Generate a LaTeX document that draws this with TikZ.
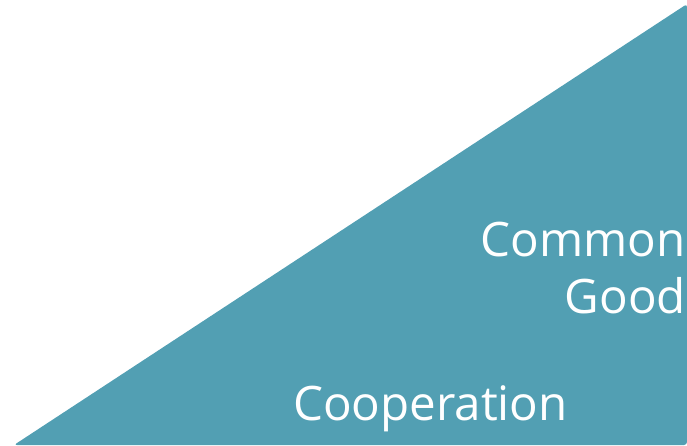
\documentclass[tikz,border=0pt]{standalone}
\usepackage{fontspec}
\setmainfont{Open Sans}
\definecolor{teal1}{HTML}{529FB3}
\tikzset{
  lbl/.style={text=white, inner sep=0pt, font=\fontsize{47.5}{57}\selectfont},
}
\begin{document}
\begin{tikzpicture}[x=1pt,y=-1pt]
\useasboundingbox (0,0) rectangle (687,445);
\coordinate (bl) at (14,445);
\coordinate (tr) at (687,4);
\coordinate (br) at (687,445);
\fill[teal1, rounded corners=3pt] (bl) -- (tr) -- (br) -- cycle;
\node[lbl, align=right, anchor=base east] (common) at (686,313) {Common\\Good};
\node[lbl, anchor=base west] (coop) at (293,420) {Cooperation};
\end{tikzpicture}
\end{document}
